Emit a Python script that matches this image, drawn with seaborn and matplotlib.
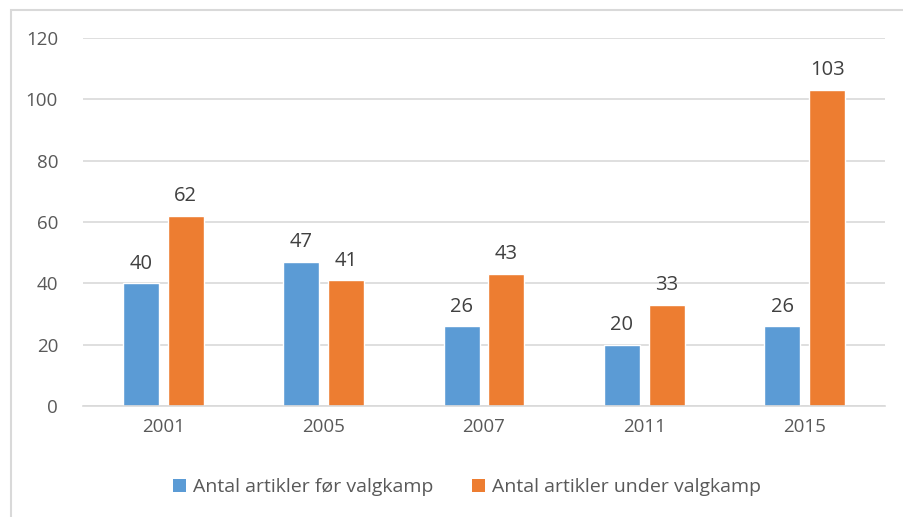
import matplotlib
matplotlib.use("Agg")
import matplotlib.pyplot as plt
import seaborn as sns
import pandas as pd
from matplotlib.patches import Rectangle, Patch

years = ["2001", "2005", "2007", "2011", "2015"]
before = [40, 47, 26, 20, 26]
during = [62, 41, 43, 33, 103]
series_names = ["Antal artikler før valgkamp", "Antal artikler under valgkamp"]
colors = ["#5B9BD5", "#ED7D31"]
yticks = [0, 20, 40, 60, 80, 100, 120]

df = pd.DataFrame({
    "year": years * 2,
    "value": before + during,
    "series": [series_names[0]] * len(years) + [series_names[1]] * len(years),
})

sns.set_theme(style="white")
plt.rcParams["font.family"] = ["Open Sans", "DejaVu Sans"]

fig = plt.figure(figsize=(9.04, 5.17), dpi=100)
ax = fig.add_axes([83 / 904, 1 - 406 / 517, (885 - 83) / 904, (406 - 38) / 517])

sns.barplot(data=df, x="year", y="value", hue="series", order=years,
            hue_order=series_names, palette=colors, width=0.56, gap=0.2,
            saturation=1, ax=ax, legend=False, errorbar=None)

ax.set_ylim(0, 120)
ax.set_yticks(yticks)
ax.set_xlim(-0.5, len(years) - 0.5)
ax.yaxis.grid(True, color="#D9D9D9", linewidth=1.2)
ax.set_axisbelow(True)
for s in ["top", "right", "left"]:
    ax.spines[s].set_visible(False)
ax.spines["bottom"].set_color("#D9D9D9")
ax.spines["bottom"].set_linewidth(1.2)
ax.tick_params(axis="both", length=0, labelsize=13.5, labelcolor="#595959")
ax.tick_params(axis="y", pad=18)
ax.tick_params(axis="x", pad=9)
ax.set_xlabel("")
ax.set_ylabel("")

for cont in ax.containers:
    ax.bar_label(cont, fmt="%d", padding=7, fontsize=14.5, color="#404040")

handles = [Patch(facecolor=c, edgecolor="none") for c in colors]
fig.legend(handles, series_names, loc="center", bbox_to_anchor=(467 / 904, 1 - 487 / 517),
           ncol=2, frameon=False, fontsize=14, labelcolor="#595959",
           handlelength=0.65, handleheight=0.65, handletextpad=0.35, columnspacing=2.0)

fig.patches.append(Rectangle((11 / 904, -0.1), 1.2, 1.1 - 10 / 517, transform=fig.transFigure,
                             fill=False, edgecolor="#D9D9D9", linewidth=1.5, zorder=0))

fig.savefig("out.png", dpi=100)
